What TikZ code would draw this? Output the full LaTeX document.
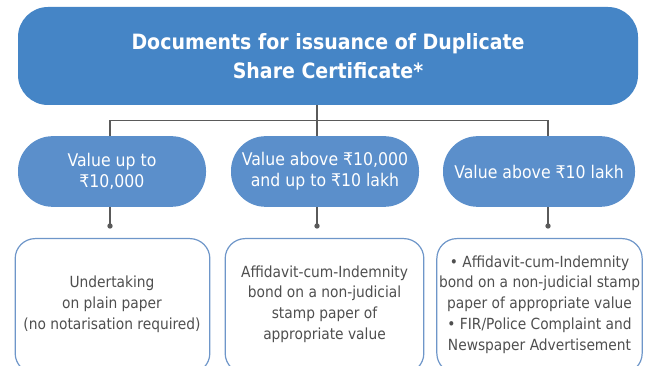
\documentclass[tikz,border=0pt]{standalone}
\usepackage{fontspec}
\setmainfont{DejaVu Sans}[FakeStretch=0.9]
\definecolor{topblue}{HTML}{4585C6}
\definecolor{midblue}{HTML}{5B8FCB}
\definecolor{edgeblue}{HTML}{6E96C9}
\definecolor{linegray}{HTML}{5A5A5A}
\definecolor{txtgray}{HTML}{4F4F4F}
\tikzset{
  topbox/.style={fill=topblue, draw=none, rounded corners=22.5pt, minimum width=465pt, minimum height=73.5pt, text=white, align=center, font=\bfseries\fontsize{15.8}{21.8}\selectfont, inner sep=0pt},
  midbox/.style={fill=midblue, draw=none, rounded corners=26pt, minimum height=53pt, text=white, align=center, font=\fontsize{13.1}{15.8}\selectfont, inner sep=0pt},
  lowbox/.style={draw=edgeblue, line width=0.9pt, fill=white, rounded corners=15pt, inner sep=0pt},
  lowtext/.style={align=center, text=txtgray, font=\fontsize{11.5}{15.6}\selectfont, inner sep=0pt},
  conn/.style={draw=linegray, line width=1pt},
  dotmark/.style={circle, fill=linegray, inner sep=0pt, minimum size=4pt}
}
\begin{document}
\begin{tikzpicture}[x=0.75pt,y=-0.75pt]
\useasboundingbox (0,0) rectangle (648,366);
\node[topbox] (top) at (328,56) {Documents for issuance of Duplicate\\Share Certificate*};
\node[midbox, minimum width=141pt] (c1) at (112,171.5) {Value up to\\₹10,000};
\node[midbox, minimum width=141pt] (c2) at (325,171.5) {Value above ₹10,000\\and up to ₹10 lakh};
\node[midbox, minimum width=144pt] (c3) at (539,171.5) {Value above ₹10 lakh};
\begin{scope}
\clip (0,0) rectangle (648,366);
\node[lowbox, minimum width=146pt, minimum height=101pt, anchor=north] (b1) at (112.5,238) {};
\node[lowbox, minimum width=149pt, minimum height=101pt, anchor=north] (b2) at (324.5,238) {};
\node[lowbox, minimum width=154pt, minimum height=101pt, anchor=north] (b3) at (539.5,238) {};
\end{scope}
\node[lowtext] (t1) at (112,304) {Undertaking\\on plain paper\\(no notarisation required)};
\node[lowtext] (t2) at (324.5,304) {Affidavit-cum-Indemnity\\bond on a non-judicial\\stamp paper of\\appropriate value};
\node[lowtext] (t3) at (539.5,304.5) {• Affidavit-cum-Indemnity\\bond on a non-judicial stamp\\paper of appropriate value\\• FIR/Police Complaint and\\Newspaper Advertisement};
\coordinate (jl) at (110,120.5);
\coordinate (jr) at (548,120.5);
\draw[conn] (317,105) -- (317,136);
\draw[conn] (110,136) -- (jl) -- (jr) -- (548,136);
\node[dotmark] (d1) at (110,226) {};
\node[dotmark] (d2) at (317,226) {};
\node[dotmark] (d3) at (548,226) {};
\draw[conn] (110,207) -- (d1.center);
\draw[conn] (317,207) -- (d2.center);
\draw[conn] (548,207) -- (d3.center);
\end{tikzpicture}
\end{document}
